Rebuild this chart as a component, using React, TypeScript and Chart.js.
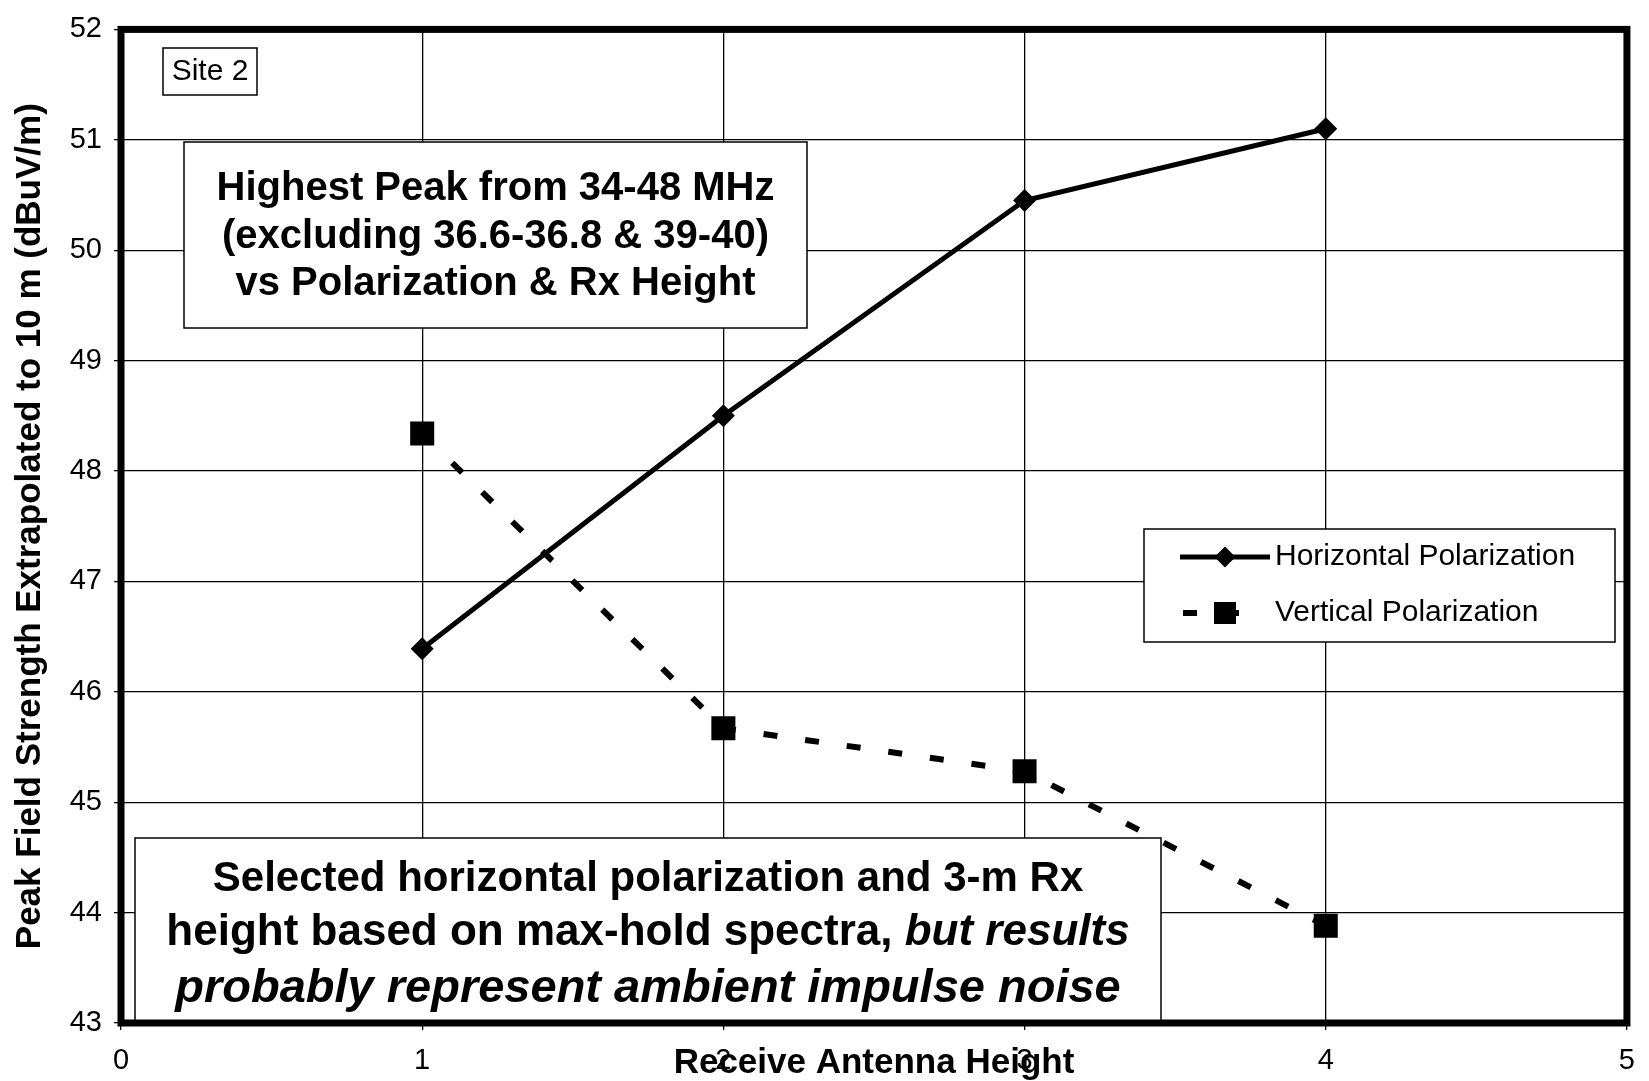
import { useEffect, useRef } from 'react';
import { Chart, registerables } from 'chart.js';

Chart.register(...registerables);

// ---------- data ----------
const antennaHeights = [1, 2, 3, 4];
const horizontalPol = [46.39, 48.5, 50.45, 51.1];
const verticalPol = [48.34, 45.67, 45.28, 43.88];
const seriesNames = ['Horizontal Polarization', 'Vertical Polarization'];
const xTicks = [0, 1, 2, 3, 4, 5];
const yTicks = [43, 44, 45, 46, 47, 48, 49, 50, 51, 52];
const xTitle = 'Receive Antenna Height';
const yTitle = 'Peak Field Strength Extrapolated to 10 m (dBuV/m)';
const siteLabel = 'Site 2';
const titleLines = [
  'Highest Peak from 34-48 MHz',
  '(excluding 36.6-36.8 & 39-40)',
  'vs Polarization & Rx Height',
];
const noteLine1 = 'Selected horizontal polarization and 3-m Rx';
const noteLine2Plain = 'height based on max-hold spectra, ';
const noteLine2Italic = 'but results';
const noteLine3 = 'probably represent ambient impulse noise';

const FONT = '"Liberation Sans", Arial, Helvetica, sans-serif';
const W = 1649;
const H = 1081;

function box(ctx: CanvasRenderingContext2D, x: number, y: number, w: number, h: number) {
  ctx.save();
  ctx.fillStyle = '#fff';
  ctx.fillRect(x, y, w, h);
  ctx.lineWidth = 1.5;
  ctx.strokeStyle = '#000';
  ctx.strokeRect(x, y, w, h);
  ctx.restore();
}

const annotationPlugin = {
  id: 'annotations',
  beforeDatasetsDraw(chart: any) {
    const ctx: CanvasRenderingContext2D = chart.ctx;
    ctx.save();
    ctx.fillStyle = '#000';
    ctx.textBaseline = 'middle';
    ctx.textAlign = 'center';

    // Site box
    box(ctx, 163, 48, 94, 47);
    ctx.font = `30px ${FONT}`;
    ctx.fillText(siteLabel, 210, 72);

    // Title box
    box(ctx, 184, 142, 623, 186);
    ctx.font = `bold 40px ${FONT}`;
    const tY = [189, 237, 284];
    titleLines.forEach((t, i) => ctx.fillText(t, 495.5, tY[i]));

    // Note box
    box(ctx, 135, 838, 1026, 187);
    const cx = 648;
    ctx.font = `bold 42px ${FONT}`;
    ctx.fillText(noteLine1, cx, 879);
    // mixed line
    ctx.textAlign = 'left';
    ctx.font = `bold 44px ${FONT}`;
    const w1 = ctx.measureText(noteLine2Plain).width;
    ctx.font = `italic bold 44px ${FONT}`;
    const w2 = ctx.measureText(noteLine2Italic).width;
    const start = cx - (w1 + w2) / 2;
    ctx.font = `bold 44px ${FONT}`;
    ctx.fillText(noteLine2Plain, start, 933);
    ctx.font = `italic bold 44px ${FONT}`;
    ctx.fillText(noteLine2Italic, start + w1, 933);
    ctx.textAlign = 'center';
    ctx.font = `italic bold 47px ${FONT}`;
    ctx.fillText(noteLine3, cx, 989);
    ctx.restore();
  },
  afterDatasetsDraw(chart: any) {
    const ctx: CanvasRenderingContext2D = chart.ctx;
    const a = chart.chartArea;
    ctx.save();
    // legend
    box(ctx, 1144, 529, 471, 113);
    const rows = [557, 613];
    // horizontal entry
    ctx.strokeStyle = '#000';
    ctx.fillStyle = '#000';
    ctx.lineWidth = 5;
    ctx.beginPath();
    ctx.moveTo(1180, rows[0]);
    ctx.lineTo(1270, rows[0]);
    ctx.stroke();
    const r = 10.5;
    ctx.beginPath();
    ctx.moveTo(1225 - r, rows[0]);
    ctx.lineTo(1225, rows[0] - r);
    ctx.lineTo(1225 + r, rows[0]);
    ctx.lineTo(1225, rows[0] + r);
    ctx.closePath();
    ctx.fill();
    // vertical entry
    ctx.lineWidth = 6;
    ctx.setLineDash([14, 28]);
    ctx.beginPath();
    ctx.moveTo(1183, rows[1]);
    ctx.lineTo(1267, rows[1]);
    ctx.stroke();
    ctx.setLineDash([]);
    ctx.fillRect(1214, rows[1] - 11, 22, 22);
    ctx.font = `30px ${FONT}`;
    ctx.textAlign = 'left';
    ctx.textBaseline = 'middle';
    ctx.fillText(seriesNames[0], 1275, rows[0]);
    ctx.fillText(seriesNames[1], 1275, rows[1]);

    // thick frame
    ctx.lineWidth = 7;
    ctx.strokeStyle = '#000';
    ctx.strokeRect(a.left, a.top, a.right - a.left, a.bottom - a.top);
    ctx.restore();
  },
};

export default function App() {
  const ref = useRef<HTMLCanvasElement | null>(null);
  useEffect(() => {
    if (!ref.current) return;
    const chart = new Chart(ref.current, {
      type: 'line',
      data: {
        datasets: [
          {
            label: seriesNames[0],
            data: antennaHeights.map((x, i) => ({ x, y: horizontalPol[i] })),
            borderColor: '#000',
            backgroundColor: '#000',
            borderWidth: 5,
            pointStyle: 'rectRot',
            pointRadius: 11.5,
            pointBorderWidth: 0,
            pointBackgroundColor: '#000',
            tension: 0,
          },
          {
            label: seriesNames[1],
            data: antennaHeights.map((x, i) => ({ x, y: verticalPol[i] })),
            borderColor: '#000',
            backgroundColor: '#000',
            borderWidth: 6,
            borderDash: [14, 28],
            pointStyle: 'rect',
            pointRadius: 17,
            pointBorderWidth: 0,
            pointBackgroundColor: '#000',
            tension: 0,
          },
        ],
      },
      options: {
        animation: false,
        responsive: false,
        devicePixelRatio: 1,
        layout: { padding: { top: 26, right: 12, bottom: 0, left: 0 } },
        plugins: {
          legend: { display: false },
          tooltip: { enabled: false },
        },
        scales: {
          x: {
            type: 'linear',
            min: xTicks[0],
            max: xTicks[xTicks.length - 1],
            afterBuildTicks: (s: any) => {
              s.ticks = xTicks.map((v) => ({ value: v }));
            },
            afterFit: (s: any) => {
              s.height = 58;
            },
            grid: { color: '#000', lineWidth: 1.3, tickLength: 7, drawTicks: true },
            border: { display: false },
            ticks: {
              color: '#000',
              font: { family: FONT, size: 29 },
              padding: 14,
              maxRotation: 0,
            },
            title: {
              display: true,
              text: xTitle,
              color: '#000',
              font: { family: FONT, size: 35, weight: 'bold', lineHeight: 1 },
              padding: { top: 0, bottom: 0.5 },
            },
          },
          y: {
            type: 'linear',
            min: yTicks[0],
            max: yTicks[yTicks.length - 1],
            afterBuildTicks: (s: any) => {
              s.ticks = yTicks.map((v) => ({ value: v }));
            },
            afterFit: (s: any) => {
              s.width = 121;
            },
            grid: { color: '#000', lineWidth: 1.3, tickLength: 7, drawTicks: true },
            border: { display: false },
            ticks: {
              color: '#000',
              font: { family: FONT, size: 29 },
              padding: 12,
            },
            title: {
              display: true,
              text: yTitle,
              color: '#000',
              font: { family: FONT, size: 35, weight: 'bold', lineHeight: 1 },
              padding: { top: 13, bottom: 0 },
            },
          },
        },
      } as any,
      plugins: [annotationPlugin],
    });
    return () => chart.destroy();
  }, []);

  return (
    <div style={{ position: 'absolute', left: 0, top: 0, width: W, height: H, background: '#fff' }}>
      <canvas ref={ref} width={W} height={H} style={{ display: 'block', width: W, height: H }} />
    </div>
  );
}
